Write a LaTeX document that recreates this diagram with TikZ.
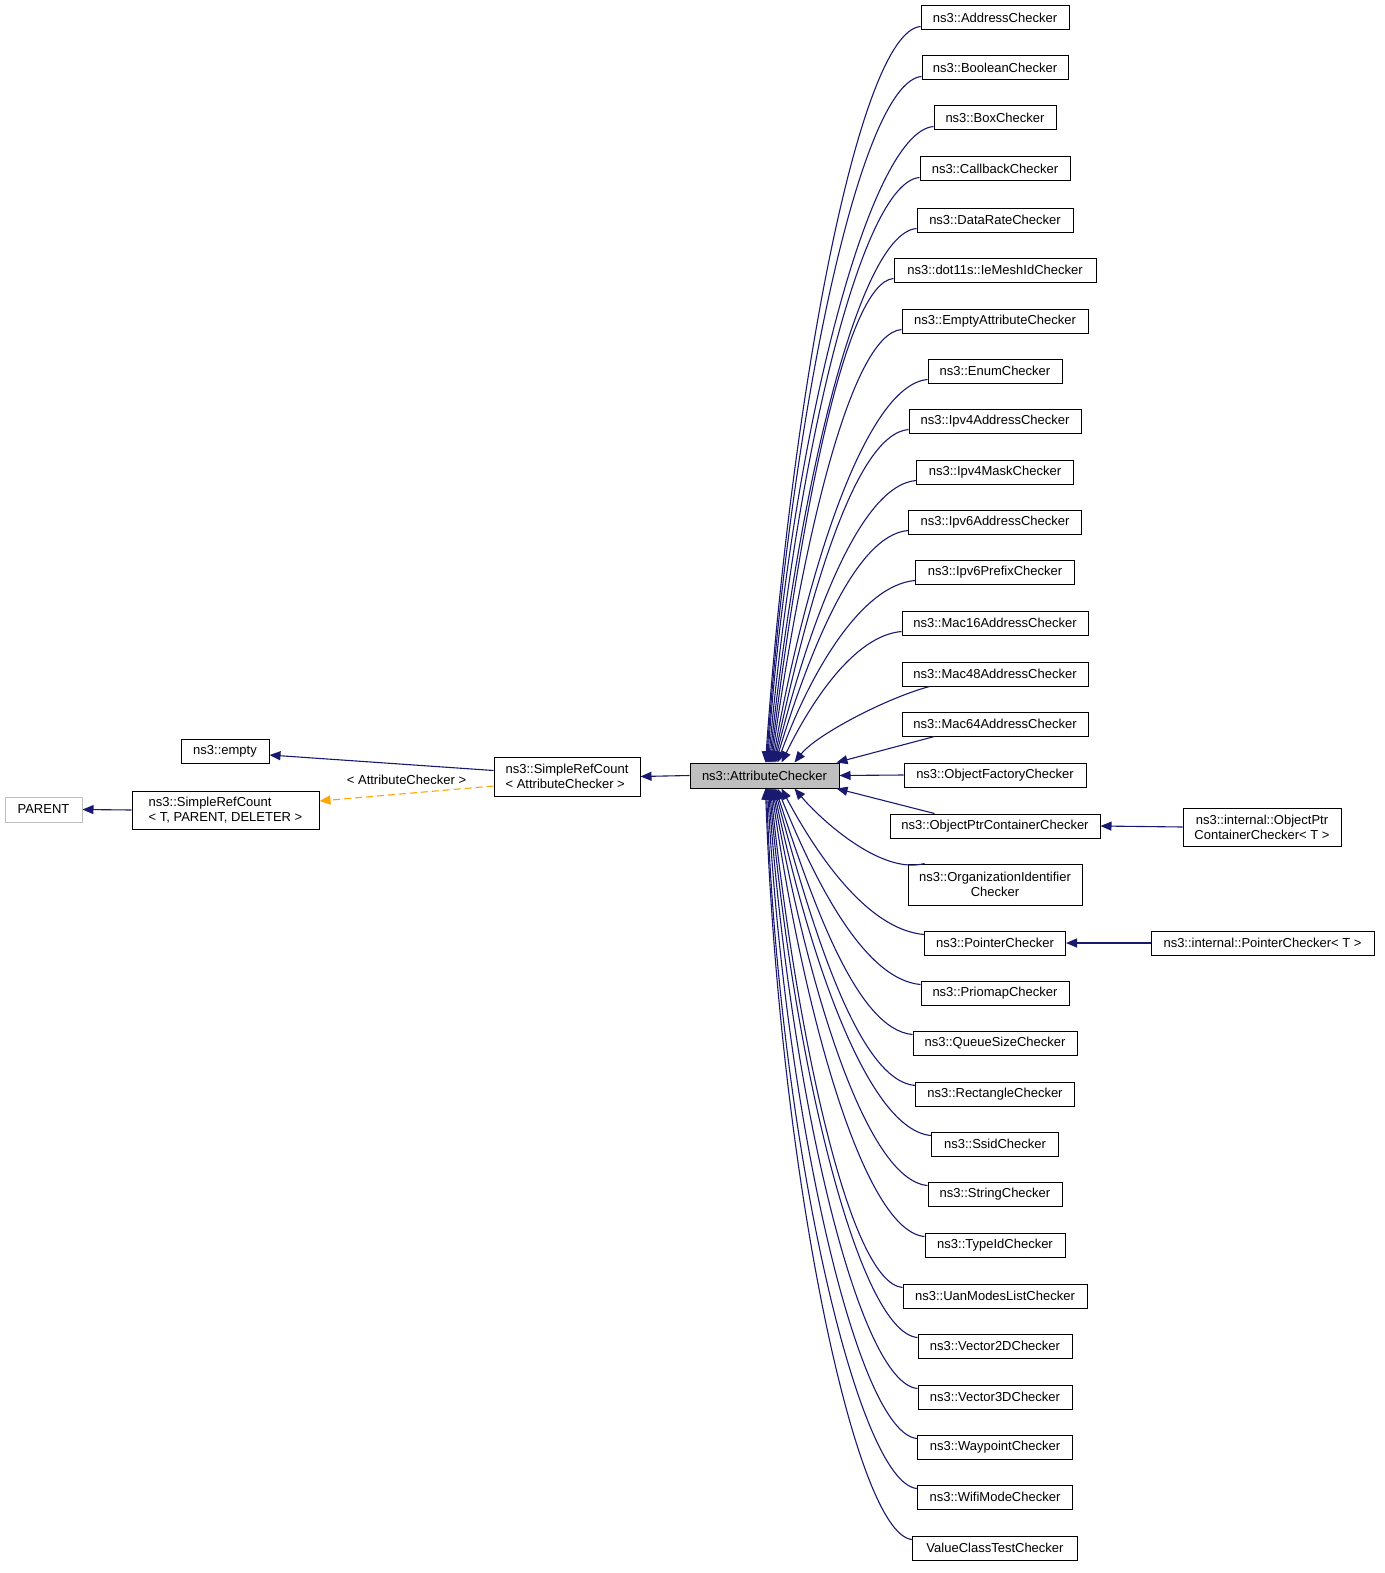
\documentclass[tikz,border=0pt]{standalone}
\usepackage{fontspec}
\setmainfont{Liberation Sans}
\usetikzlibrary{arrows.meta}
\definecolor{edgeblue}{HTML}{191970}
\definecolor{orangeedge}{HTML}{FFA500}
\definecolor{acgrey}{HTML}{BFBFBF}
\tikzset{
  cls/.style={draw=black, line width=1pt, inner sep=0pt, minimum height=24pt, fill=white,
    font=\fontsize{13}{15}\selectfont},
  edge/.style={draw=edgeblue, line width=1.1pt, -{Triangle[length=11pt,width=9pt]}, fill=none},
  dashedge/.style={draw=orangeedge, line width=1.1pt, dash pattern=on 7pt off 4pt,
    -{Triangle[length=11pt,width=9pt,fill=orangeedge]}},
  lbl/.style={font=\fontsize{13}{15}\selectfont, inner sep=0pt}
}
\begin{document}
\begin{tikzpicture}[x=1pt,y=1pt]
\useasboundingbox (0,0) rectangle (1384,-1573);

% left part
\node[cls, draw=acgrey, minimum width=77pt, minimum height=25pt] (parent) at (43.5,-809.5) {PARENT};
\node[cls, minimum width=187pt, minimum height=38pt, align=left] (srct) at (225.5,-810) {ns3::SimpleRefCount\\< T, PARENT, DELETER >};
\node[cls, minimum width=88pt] (nsempty) at (225,-751) {ns3::empty};
\node[cls, minimum width=146pt, minimum height=39pt, align=left] (src) at (567,-776.5) {ns3::SimpleRefCount\\< AttributeChecker >};
\node[cls, fill=acgrey, minimum width=149pt, minimum height=25pt] (ac) at (764.5,-775.5) {ns3::AttributeChecker};

% right column
\node[cls, minimum width=148pt] (addr) at (995,-18) {ns3::AddressChecker};
\node[cls, minimum width=146pt] (bool) at (995,-68) {ns3::BooleanChecker};
\node[cls, minimum width=122pt] (box) at (995,-118) {ns3::BoxChecker};
\node[cls, minimum width=150pt] (cb) at (995,-169) {ns3::CallbackChecker};
\node[cls, minimum width=156pt] (dr) at (995,-220) {ns3::DataRateChecker};
\node[cls, minimum width=202pt] (mesh) at (995,-270) {ns3::dot11s::IeMeshIdChecker};
\node[cls, minimum width=186pt] (emptyac) at (995,-321) {ns3::EmptyAttributeChecker};
\node[cls, minimum width=134pt] (enum) at (995,-371) {ns3::EnumChecker};
\node[cls, minimum width=172pt] (ipfa) at (995,-421) {ns3::Ipv4AddressChecker};
\node[cls, minimum width=157pt] (ipfm) at (995,-472) {ns3::Ipv4MaskChecker};
\node[cls, minimum width=173pt] (ipsa) at (995,-522) {ns3::Ipv6AddressChecker};
\node[cls, minimum width=159pt] (ipsp) at (995,-572) {ns3::Ipv6PrefixChecker};
\node[cls, minimum width=186pt] (msixteen) at (995,-623) {ns3::Mac16AddressChecker};
\node[cls, minimum width=186pt] (mfortyeight) at (995,-674) {ns3::Mac48AddressChecker};
\node[cls, minimum width=186pt] (msixtyfour) at (995,-724) {ns3::Mac64AddressChecker};
\node[cls, minimum width=182pt] (of) at (995,-775) {ns3::ObjectFactoryChecker};
\node[cls, minimum width=210pt] (opc) at (995,-826) {ns3::ObjectPtrContainerChecker};
\node[cls, minimum width=174pt, minimum height=41pt, align=center] (org) at (995,-884.5) {ns3::OrganizationIdentifier\\Checker};
\node[cls, minimum width=141pt] (ptr) at (995,-943) {ns3::PointerChecker};
\node[cls, minimum width=148pt] (prio) at (995,-993) {ns3::PriomapChecker};
\node[cls, minimum width=164pt] (qs) at (995,-1043) {ns3::QueueSizeChecker};
\node[cls, minimum width=159pt] (rect) at (995,-1094) {ns3::RectangleChecker};
\node[cls, minimum width=127pt] (ssid) at (995,-1144) {ns3::SsidChecker};
\node[cls, minimum width=134pt] (str) at (995,-1194) {ns3::StringChecker};
\node[cls, minimum width=140pt] (tid) at (995,-1245) {ns3::TypeIdChecker};
\node[cls, minimum width=184pt] (uan) at (995,-1296) {ns3::UanModesListChecker};
\node[cls, minimum width=154pt] (vtwo) at (995,-1346) {ns3::Vector2DChecker};
\node[cls, minimum width=154pt] (vthree) at (995,-1397) {ns3::Vector3DChecker};
\node[cls, minimum width=155pt] (wp) at (995,-1447) {ns3::WaypointChecker};
\node[cls, minimum width=155pt] (wifi) at (995,-1497) {ns3::WifiModeChecker};
\node[cls, minimum width=165pt] (vct) at (995,-1548) {ValueClassTestChecker};

% far right
\node[cls, minimum width=158pt, minimum height=38pt, align=center] (iopc) at (1262,-827) {ns3::internal::ObjectPtr\\ContainerChecker< T >};
\node[cls, minimum width=223pt] (iptr) at (1262.5,-943) {ns3::internal::PointerChecker< T >};

% left edges
\draw[edge] (ac.west) -- (src.east);
\draw[edge] ([yshift=6pt]src.west) -- ([yshift=-4pt]nsempty.east);
\draw[dashedge] ([yshift=-9.5pt]src.west) -- ([yshift=9pt]srct.east)
  node[lbl, midway, yshift=13.5pt] {< AttributeChecker >};
\draw[edge] (srct.west) -- (parent.east);

% far right edges
\draw[edge] (iopc.west) -- (opc.east);
\draw[edge] (iptr.west) -- (ptr.east);

% top children
\foreach \n/\xe/\ia/\od/\id in {
  addr/766/86/62/368, bool/767/86/62/344, box/768/86/66/318, cb/769/85/60/293,
  dr/770/84/59/268, mesh/771/83/49/242, emptyac/772/82/52/217, enum/773/80/62/192,
  ipfa/774/78/54/167, ipfm/775/76/57/142, ipsa/776/73/53/117, ipsp/778/70/55/92,
  msixteen/782/64/48/66}{
  \draw[edge] ([yshift=4pt]\n.south west) to[out=185, in=\ia, out distance=\od pt, in distance=\id pt]
    ([xshift={(\xe-690)*1pt}]ac.north west);
}
\draw[edge] ([xshift=28pt]mfortyeight.south west) to[out=195, in=52, out distance=45pt, in distance=35pt]
  ([xshift=105pt]ac.north west);
\draw[edge] ([xshift=33pt]msixtyfour.south west) -- ([xshift=-3pt]ac.north east);
\draw[edge] (of.west) -- (ac.east);
\draw[edge] ([xshift=45pt]opc.north west) -- ([xshift=-3pt]ac.south east);
\draw[edge] ([xshift=17pt]org.north west) to[out=195, in=-50, out distance=45pt, in distance=40pt]
  ([xshift=105pt]ac.south west);

% bottom children
\foreach \n/\xe/\ia/\od/\id in {
  ptr/782/-62/57/74, prio/778/-68/57/98, qs/776/-72/55/124, rect/775/-75/56/149,
  ssid/774/-78/63/174, str/773/-80/62/199, tid/772/-82/61/224, uan/771/-84/53/250,
  vtwo/770/-85/59/275, vthree/769/-86/60/300, wp/768/-87/60/325, wifi/767/-88/60/350,
  vct/766/-88/58/376}{
  \draw[edge] ([yshift=-4pt]\n.north west) to[out=175, in=\ia, out distance=\od pt, in distance=\id pt]
    ([xshift={(\xe-690)*1pt}]ac.south west);
}
\end{tikzpicture}
\end{document}
